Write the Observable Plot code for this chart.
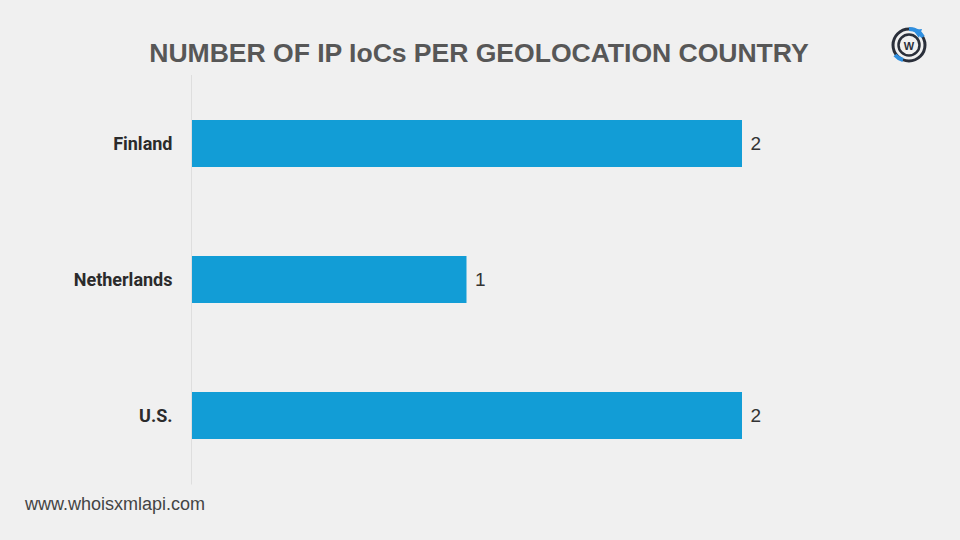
<!DOCTYPE html>
<html>
<head>
<meta charset="utf-8">
<script src="https://cdn.jsdelivr.net/npm/d3@7"></script>
<script src="https://cdn.jsdelivr.net/npm/@observablehq/plot@0.6"></script>
<style>
  html, body { margin: 0; padding: 0; }
  body { width: 960px; height: 540px; background: #f0f0f0; position: relative; overflow: hidden; font-family: "Liberation Sans", Arial, sans-serif; }
  #title { position: absolute; left: 0; width: 960px; top: 38px; text-align: center; font-size: 26.6px; font-weight: bold; color: #575757; letter-spacing: -0.05px; }
  #title span { position: relative; left: -1px; }
  #footer { position: absolute; left: 25px; top: 494px; font-size: 18px; color: #444; font-family: "Liberation Sans", Arial, sans-serif; }
  #chart { position: absolute; left: 0; top: 0; }
  #logo { position: absolute; left: 889px; top: 25px; }
</style>
</head>
<body>
<div id="chart"></div>
<div id="title"><span>NUMBER OF IP IoCs PER GEOLOCATION COUNTRY</span></div>
<div id="footer">www.whoisxmlapi.com</div>
<svg id="logo" width="40" height="40" viewBox="0 0 40 40">
  <circle cx="20" cy="20" r="16" fill="none" stroke="#2a2f3a" stroke-width="3"/>
  <circle cx="20" cy="20" r="10.5" fill="none" stroke="#2a2f3a" stroke-width="2.5"/>
  <path d="M20 4 A16 16 0 0 1 34 12" fill="none" stroke="#2f8fe0" stroke-width="4"/>
  <path d="M6 30 A16 16 0 0 0 14 35" fill="none" stroke="#2f8fe0" stroke-width="4"/>
  <path d="M24 5 L33 4 L30 13 Z" fill="#2f8fe0"/>
  <text x="20" y="24.5" text-anchor="middle" font-family="Liberation Sans, Arial" font-weight="bold" font-size="11" fill="#2a2f3a">W</text>
</svg>
<script>
const countries = ["Finland", "Netherlands", "U.S."];
const counts = [2, 1, 2];

const data = countries.map((c, i) => ({country: c, count: counts[i]}));

const chart = Plot.plot({
  width: 960,
  height: 540,
  marginLeft: 191,
  marginRight: 218,
  marginTop: 75,
  marginBottom: 55.5,
  style: {background: "transparent", fontFamily: "Roboto, sans-serif"},
  x: {domain: [0, 2], axis: null},
  y: {domain: countries, paddingInner: 0.656, paddingOuter: 0.328, label: null},
  marks: [
    Plot.ruleX([0], {stroke: "#dedede", strokeWidth: 1}),
    Plot.barX(data, {x: "count", y: "country", fill: "#129dd6", insetLeft: 1}),
    Plot.text(data, {x: "count", y: "country", text: d => String(d.count), textAnchor: "start", dx: 8, fontSize: 19, fill: "#333", fontFamily: "Liberation Sans, Arial, sans-serif"}),
    Plot.axisY({tickSize: 0, tickPadding: 19, fontSize: 18, fontWeight: "bold", fill: "#2b2b2b", label: null, fontFamily: "Roboto, sans-serif"})
  ]
});
document.getElementById("chart").appendChild(chart);
</script>
</body>
</html>
